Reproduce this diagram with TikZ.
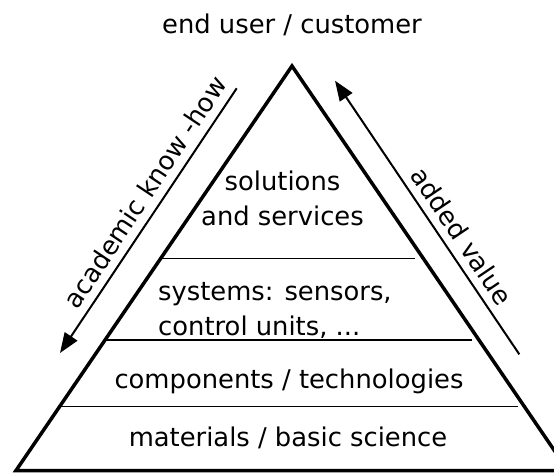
\documentclass[tikz,border=0pt]{standalone}
\usepackage{fontspec}
\setmainfont{DejaVu Sans}
\usetikzlibrary{arrows.meta}

\tikzset{
  pyramid/.style={line width=3.5pt, line join=miter},
  layer/.style={line width=1.2pt},
  flow/.style={line width=2pt, -{Triangle[length=20pt,width=15pt]}},
  lvltext/.style={inner sep=0pt, font=\fontsize{25.8}{35}\selectfont}
}

\begin{document}
\begin{tikzpicture}[x=1pt,y=-1pt]
        \useasboundingbox (0,0) rectangle (554,474);
        \clip (0,0) rectangle (554,474);
        % pyramid outline
        \coordinate (apex) at (292,66);
        \coordinate (bl) at (16,470.5);
        \coordinate (br) at (568,470.5);
        \draw[pyramid] (apex) -- (br) -- (bl) -- cycle;
        % layers
        \draw[layer] (160.8,258.3) -- (415,258.3);
        \draw[layer] (105,340) -- (472,340);
        \draw[layer] (59.5,406.7) -- (518,406.7);
        % texts
        \node[lvltext, anchor=base] (user) at (292,33) {end user / customer};
        \node[lvltext, anchor=base] (sol1) at (282.5,190) {solutions};
        \node[lvltext, anchor=base] (sol2) at (282.5,225) {and services};
        \node[lvltext, anchor=base west] (sys1) at (158,300) {systems: sensors,};
        \node[lvltext, anchor=base west] (sys2) at (158,335) {control units, ...};
        \node[lvltext, anchor=base] (comp) at (289,388) {components / technologies};
        \node[lvltext, anchor=base] (mat) at (288,446.7) {materials / basic science};
        % side arrows
        \coordinate (know0) at (236.7,88.3);
        \coordinate (know1) at (60,353);
        \draw[flow] (know0) -- (know1);
        \node[lvltext, rotate=56.3] (know) at (145,192) {academic know -how};
        \coordinate (value0) at (519.3,354.3);
        \coordinate (value1) at (335,80.7);
        \draw[flow] (value0) -- (value1);
        \node[lvltext, rotate=-56] (value) at (462,236) {added value};
\end{tikzpicture}
\end{document}
